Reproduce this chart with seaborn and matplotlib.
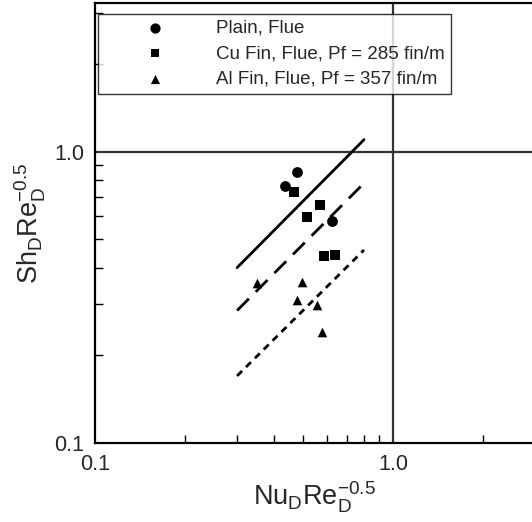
import numpy as np
import pandas as pd
import matplotlib
matplotlib.use('Agg')
import matplotlib.pyplot as plt
import seaborn as sns

plain_x = [0.476, 0.434, 0.626]
plain_y = [0.849, 0.764, 0.576]

cu_x = [0.465, 0.569, 0.513, 0.588, 0.639]
cu_y = [0.725, 0.658, 0.595, 0.439, 0.443]

al_x = [0.350, 0.496, 0.476, 0.555, 0.576]
al_y = [0.354, 0.358, 0.310, 0.298, 0.240]

# correlation lines (start / end)
line_x = [0.3, 0.8]
solid_y = [0.40, 1.10]
long_dash_y = [0.285, 0.78]
short_dash_y = [0.17, 0.46]

labels = ['Plain, Flue', 'Cu Fin, Flue, Pf = 285 fin/m', 'Al Fin, Flue, Pf = 357 fin/m']

sns.set_style('ticks')
plt.rcParams['font.family'] = ['Liberation Sans', 'DejaVu Sans']
plt.rcParams['mathtext.fontset'] = 'custom'
plt.rcParams['mathtext.rm'] = 'Liberation Sans'
plt.rcParams['mathtext.it'] = 'Liberation Sans'

fig = plt.figure(figsize=(5.32, 5.22), dpi=100)
ax = fig.add_axes([95 / 532, 79 / 522, 440 / 532, 440 / 522])

groups = [
    (plain_x, plain_y, 'o', 60, labels[0]),
    (cu_x, cu_y, 's', 42, labels[1]),
    (al_x, al_y, '^', 48, labels[2]),
]
for gx, gy, mk, sz, lab in groups:
    df = pd.DataFrame({'x': gx, 'y': gy})
    sns.scatterplot(data=df, x='x', y='y', marker=mk, s=sz, color='black',
                    edgecolor='black', linewidth=0, label=lab, ax=ax, zorder=3)

for ly, ls in [(solid_y, '-'), (long_dash_y, (0, (6, 3.5))), (short_dash_y, (0, (2.5, 2)))]:
    sns.lineplot(x=line_x, y=ly, color='black', lw=2, linestyle=ls, ax=ax,
                 legend=False, zorder=2)

ax.set_xscale('log')
ax.set_yscale('log')
ax.set_xlim(0.1, 3.0)
ax.set_ylim(0.1, 3.24)

ax.set_xticks([0.1, 1.0])
ax.set_xticklabels(['0.1', '1.0'])
ax.set_yticks([0.1, 1.0])
ax.set_yticklabels(['0.1', '1.0'])
ax.tick_params(which='major', direction='in', length=0, labelsize=15.5, pad=8)
ax.tick_params(which='minor', direction='in', length=6, width=1, color='black')
ax.tick_params(axis='both', which='minor', labelbottom=False, labelleft=False)

ax.axvline(1.0, color='#333333', lw=1.6, zorder=1)
ax.axhline(1.0, color='#333333', lw=1.6, zorder=1)

for side in ['left', 'bottom', 'top']:
    ax.spines[side].set_linewidth(1.6)
    ax.spines[side].set_color('black')
ax.spines['right'].set_visible(False)

ax.set_xlabel(r'$\mathregular{Nu_DRe_D^{-0.5}}$', fontsize=19.5, labelpad=3)
ax.set_ylabel(r'$\mathregular{Sh_DRe_D^{-0.5}}$', fontsize=19.5, labelpad=4)

leg = ax.legend(loc='upper left', bbox_to_anchor=(3 / 440, 1 - 11 / 440),
                borderaxespad=0, fontsize=13.5, frameon=True, fancybox=False,
                handlelength=5.5, handletextpad=0.5, labelspacing=0.45,
                borderpad=0.3, markerscale=0.95)
leg.get_frame().set_edgecolor('black')
leg.get_frame().set_linewidth(1.0)

fig.savefig('out.png', dpi=100)
